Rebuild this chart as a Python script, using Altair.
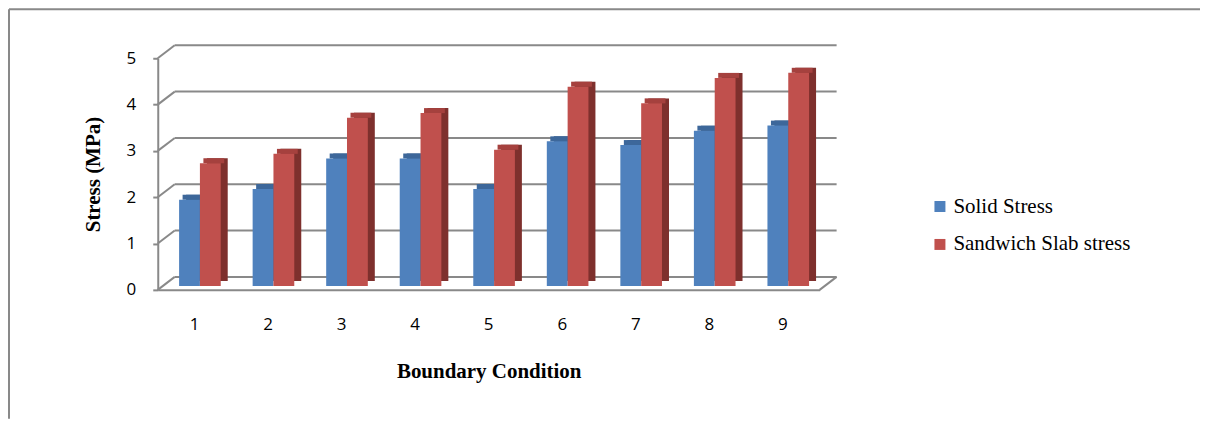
import altair as alt
import pandas as pd

categories = ["1", "2", "3", "4", "5", "6", "7", "8", "9"]
solid_stress = [1.86, 2.09, 2.75, 2.75, 2.09, 3.12, 3.04, 3.35, 3.46]
sandwich_stress = [2.65, 2.85, 3.63, 3.73, 2.94, 4.30, 3.94, 4.49, 4.60]
series_names = ["Solid Stress", "Sandwich Slab stress"]
y_ticks = [0, 1, 2, 3, 4, 5]

rows = []
for c, s, w in zip(categories, solid_stress, sandwich_stress):
    rows.append({"cat": c, "series": series_names[0], "value": s})
    rows.append({"cat": c, "series": series_names[1], "value": w})
df = pd.DataFrame(rows)
grid_df = pd.DataFrame({"v": y_ticks})
one_df = pd.DataFrame({"k": [0]})

W, H = 663, 232
DX, DY = 17, 13
GRID = "#898989"
FRONT = ["#4f81bd", "#c0504d"]
TOP = ["#3d679a", "#a5413e"]
SIDE = ["#385d8a", "#7e302d"]

y_scale = alt.Scale(domain=[0, 5], nice=False, zero=True)
x_scale = alt.Scale(domain=categories, paddingInner=0.434, paddingOuter=0.217)

y_axis = alt.Axis(
    title="Stress (MPa)", values=y_ticks, grid=False,
    domainColor=GRID, domainWidth=2, tickColor=GRID, tickWidth=2, tickSize=5,
    labelFont="Open Sans", labelFontSize=17, labelColor="#000000", labelPadding=17,
    titleFont="Liberation Serif", titleFontSize=21, titleFontWeight="bold",
    titleColor="#000000", titlePadding=23,
)
x_axis = alt.Axis(
    title="Boundary Condition", labelAngle=0, grid=False, ticks=False,
    domainColor=GRID, domainWidth=2,
    labelFont="Open Sans", labelFontSize=17, labelColor="#000000", labelPadding=27,
    titleFont="Liberation Serif", titleFontSize=21, titleFontWeight="bold",
    titleColor="#000000", titlePadding=28,
)

# outer frame
frame_left = alt.Chart(one_df).mark_rule(color=GRID, strokeWidth=2).encode(
    x=alt.value(-149), y=alt.value(-49), y2=alt.value(361)
)
frame_top = alt.Chart(one_df).mark_rule(color=GRID, strokeWidth=2).encode(
    x=alt.value(-149), x2=alt.value(1044), y=alt.value(-49)
)

# back wall gridlines and 3D floor/wall edges
back_grid = alt.Chart(grid_df).mark_rule(color=GRID, strokeWidth=2, yOffset=-DY, y2Offset=-DY).encode(
    x=alt.value(DX), x2=alt.value(W + DX),
    y=alt.Y("v:Q", scale=y_scale, axis=y_axis),
)
side_grid = alt.Chart(grid_df).mark_rule(color=GRID, strokeWidth=2, y2Offset=-DY).encode(
    x=alt.value(0), x2=alt.value(DX),
    y=alt.Y("v:Q", scale=y_scale, axis=y_axis),
    y2=alt.Y2("v:Q"),
)
floor_right = alt.Chart(grid_df).transform_filter("datum.v == 0").mark_rule(
    color=GRID, strokeWidth=2, y2Offset=-DY
).encode(
    x=alt.value(W), x2=alt.value(W + DX),
    y=alt.Y("v:Q", scale=y_scale, axis=y_axis),
    y2=alt.Y2("v:Q"),
)

BW = 20.85
BX, BY = 5.4, -4
SX, SY = 7, -5

x_enc = alt.X("cat:N", scale=x_scale, axis=x_axis, sort=categories)

sides, tops, fronts = [], [], []
for i, name in enumerate(series_names):
    off = BX + (i - 0.5) * BW
    base = alt.Chart(df).transform_filter(alt.datum.series == name)
    sides.append(base.mark_bar(
        width=BW, xOffset=off + SX, yOffset=BY + SY, y2Offset=BY + SY, color=SIDE[i]
    ).encode(
        x=x_enc, y=alt.Y("value:Q", scale=y_scale, axis=y_axis),
    ))
    tops.append(base.mark_bar(
        width=BW, xOffset=off + SX / 2, yOffset=BY + SY, y2Offset=BY, color=TOP[i]
    ).encode(
        x=x_enc, y=alt.Y("value:Q", scale=y_scale, axis=y_axis), y2=alt.Y2("value:Q"),
    ))
    fronts.append(base.mark_bar(
        width=BW, xOffset=off, yOffset=BY, y2Offset=BY
    ).encode(
        x=x_enc, y=alt.Y("value:Q", scale=y_scale, axis=y_axis),
        color=alt.Color(
            "series:N",
            scale=alt.Scale(domain=series_names, range=FRONT),
            legend=alt.Legend(
                title=None, orient="none", legendX=773, legendY=138,
                symbolType="square", symbolSize=121, symbolStrokeWidth=0,
                labelFont="Liberation Serif", labelFontSize=21, labelColor="#000000",
                labelOffset=3, rowPadding=16, padding=0, labelLimit=400,
            ),
        ),
    ))

chart = alt.layer(
    frame_left, frame_top, back_grid, side_grid, floor_right, *sides, *tops, *fronts
).properties(
    width=W, height=H, padding=0
).configure_view(stroke=None)

chart.save("out.html", embed_options={"renderer": "svg", "actions": False})
